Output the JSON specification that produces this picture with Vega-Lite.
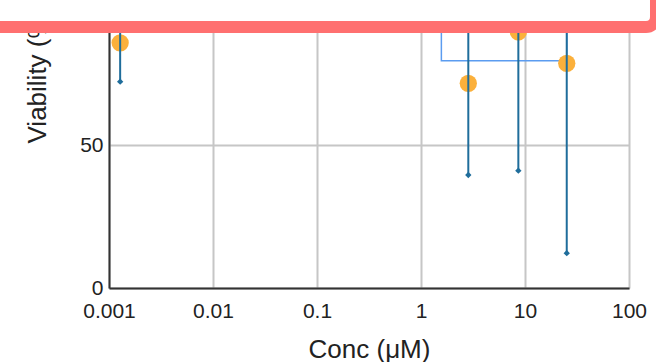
{
  "$schema": "https://vega.github.io/schema/vega-lite/v6.json",
  "autosize": {"type": "none"},
  "width": 520,
  "height": 288,
  "padding": {"left": 109, "top": 0, "right": 27, "bottom": 74},
  "background": "white",
  "config": {
    "view": {"stroke": null},
    "font": "Liberation Sans",
    "axis": {
      "domainColor": "#333333",
      "domainWidth": 2,
      "gridColor": "#c6c6c6",
      "gridWidth": 2,
      "ticks": false,
      "labelColor": "#222222",
      "titleColor": "#222222",
      "labelFont": "Liberation Sans",
      "titleFont": "Liberation Sans",
      "labelFontSize": 21,
      "titleFontSize": 26,
      "titleFontWeight": "normal",
      "labelOverlap": false,
      "labelFlush": false
    }
  },
  "datasets": {
    "pts": [
      {"conc": 0.00128, "viability": 85.9, "lower": 72.3, "upper": 99.5},
      {"conc": 2.85, "viability": 71.7, "lower": 39.6, "upper": 103.8},
      {"conc": 8.63, "viability": 89.7, "lower": 41.1, "upper": 138.3},
      {"conc": 25.2, "viability": 78.7, "lower": 12.2, "upper": 145.2}
    ],
    "selbox": [{"x1": 1.57, "x2": 25.2, "y1": 79.6, "y2": 130}],
    "callout": [{"x1": 0.00001, "x2": 181.8, "y1": 91.45, "y2": 400}]
  },
  "layer": [
    {
      "data": {"name": "selbox"},
      "mark": {"type": "rect", "fillOpacity": 0, "stroke": "#5b9cf0", "strokeWidth": 1.5},
      "encoding": {
        "x": {
          "field": "x1", "type": "quantitative",
          "scale": {"type": "log", "domain": [0.001, 100], "nice": false},
          "axis": {
            "values": [0.001, 0.01, 0.1, 1, 10, 100],
            "format": "~g",
            "labelPadding": 12,
            "title": "Conc (μM)",
            "titleY": 69,
            "titleBaseline": "alphabetic"
          }
        },
        "x2": {"field": "x2"},
        "y": {
          "field": "y1", "type": "quantitative",
          "scale": {"domain": [0, 100.9], "nice": false, "zero": false},
          "axis": {
            "values": [0, 50],
            "labelPadding": 6,
            "title": "Viability (%)",
            "titleAngle": 270,
            "titleAlign": "left",
            "titleBaseline": "alphabetic",
            "titleX": -64,
            "titleY": 143
          }
        },
        "y2": {"field": "y2"}
      }
    },
    {
      "data": {"name": "pts"},
      "mark": {"type": "point", "filled": true, "shape": "circle", "size": 300, "color": "#fbb03b", "opacity": 1},
      "encoding": {
        "x": {"field": "conc", "type": "quantitative"},
        "y": {"field": "viability", "type": "quantitative"}
      }
    },
    {
      "data": {"name": "pts"},
      "mark": {"type": "rule", "color": "#1f6d9b", "strokeWidth": 2},
      "encoding": {
        "x": {"field": "conc", "type": "quantitative"},
        "y": {"field": "lower", "type": "quantitative"},
        "y2": {"field": "upper"}
      }
    },
    {
      "data": {"name": "pts"},
      "mark": {"type": "point", "filled": true, "shape": "diamond", "size": 40, "color": "#1f6d9b", "opacity": 1},
      "encoding": {
        "x": {"field": "conc", "type": "quantitative"},
        "y": {"field": "lower", "type": "quantitative"}
      }
    },
    {
      "data": {"name": "callout"},
      "mark": {"type": "rect", "fill": "white", "stroke": "#ff7070", "strokeWidth": 12, "cornerRadius": 10},
      "encoding": {
        "x": {"field": "x1", "type": "quantitative"},
        "x2": {"field": "x2"},
        "y": {"field": "y1", "type": "quantitative"},
        "y2": {"field": "y2"}
      }
    }
  ]
}
